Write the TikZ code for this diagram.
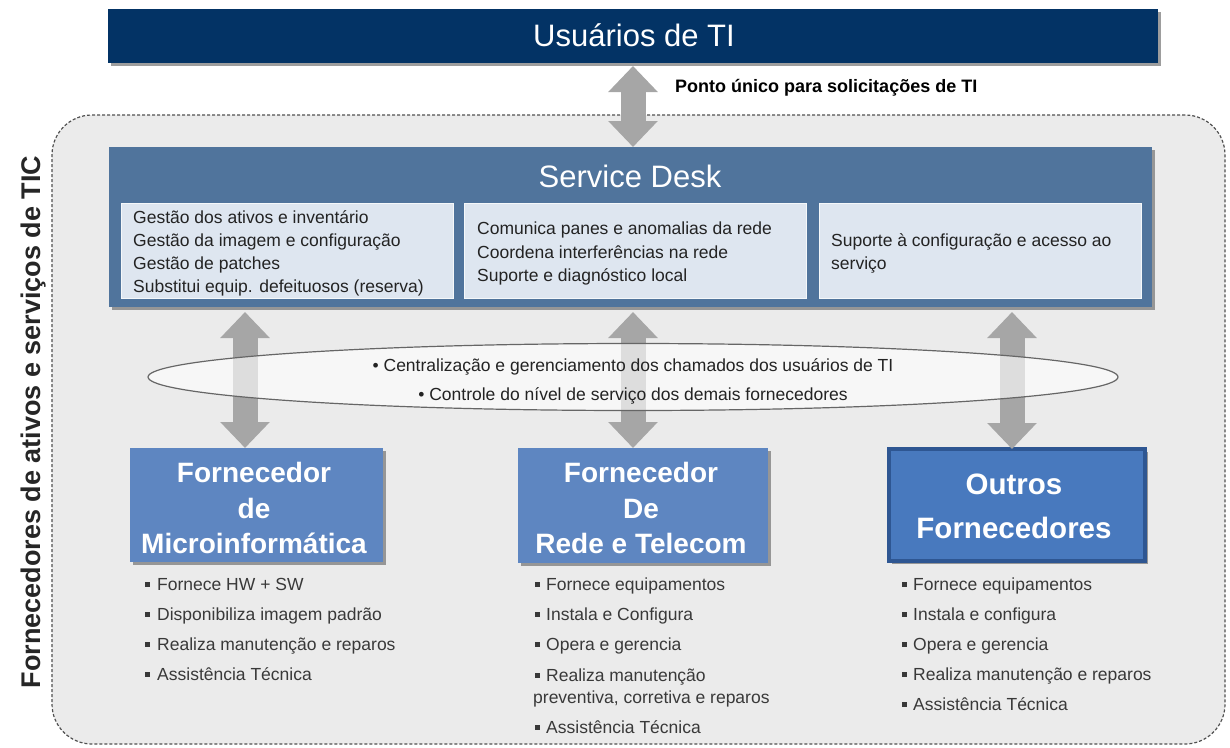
\documentclass[tikz,border=0pt]{standalone}
\usepackage{fontspec}
\setmainfont{Liberation Sans}
\usetikzlibrary{arrows.meta,shapes.geometric,shadows,calc}
\definecolor{navy}{RGB}{3,51,101}
\definecolor{sdblue}{RGB}{80,116,156}
\definecolor{sdlight}{RGB}{222,230,240}
\definecolor{provblue}{RGB}{94,134,193}
\definecolor{provC}{RGB}{72,121,190}
\definecolor{provCborder}{RGB}{46,86,146}
\definecolor{bggray}{RGB}{235,235,235}
\definecolor{arrowgray}{RGB}{166,166,166}
\definecolor{txtdark}{RGB}{35,35,35}
\definecolor{dashgray}{RGB}{80,80,80}
\newcommand{\bul}{\rule[3.5pt]{5pt}{5pt}}
\newcommand{\fs}[1]{\fontsize{#1}{#1}\selectfont}
\begin{document}
\begin{tikzpicture}[x=1pt,y=-1pt,
  shadowed/.style={drop shadow={shadow xshift=3pt,shadow yshift=-3pt,fill=black!55,opacity=0.7}},
  box/.style={rectangle,inner sep=0pt,outer sep=0pt},
  dblarrow/.style={draw=arrowgray,line width=25pt,
    {Triangle[width=48pt,length=26pt]}-{Triangle[width=48pt,length=26pt]}},
  smalltxt/.style={font=\fs{17.5},text=txtdark,anchor=base west,inner sep=0pt},
  listtxt/.style={font=\fs{17.5},text=txtdark!90,anchor=base west,inner sep=0pt},
  provtitle/.style={font=\fs{28}\bfseries,text=white,anchor=base,inner sep=0pt},
  ctxt/.style={font=\fs{17.5},text=txtdark,anchor=base,inner sep=0pt}]
\useasboundingbox (0,0) rectangle (1230,747);

% dashed background region
\node[box,draw=dashgray,fill=bggray,rounded corners=40pt,line width=1.2pt,
  dash pattern=on 3pt off 2pt,minimum width=1173pt,minimum height=629pt]
  (region) at (638.5,429.5) {};
\node[font=\fs{27}\bfseries,text=black!85,rotate=90,anchor=base,inner sep=0pt]
  (regionlbl) at (40,422) {Fornecedores de ativos e serviços de TIC};

% users bar
\node[box,shadowed,fill=navy,minimum width=1050pt,minimum height=54pt] (usr) at (633,36) {};
\node[font=\fs{31},text=white,anchor=base,inner sep=0pt] (usrt) at (634,46) {Usuários de TI};

% service desk
\node[box,shadowed,fill=sdblue,minimum width=1043pt,minimum height=160pt] (sd) at (630.5,227) {};

% providers
\node[box,shadowed,fill=provblue,minimum width=253pt,minimum height=114pt] (pA) at (256.5,505) {};
\node[box,shadowed,fill=provblue,minimum width=250pt,minimum height=115pt] (pB) at (643,505.5) {};
\node[box,shadowed,fill=provC,draw=provCborder,line width=4pt,minimum width=256pt,minimum height=112pt] (pC) at (1017,505) {};

% arrows
\coordinate (xA) at (245,0);
\coordinate (xB) at (633,0);
\coordinate (xC) at (1012,0);
\draw[dblarrow] ($(usr.south -| xB)+(0,3)$) -- (sd.north -| xB);
\draw[dblarrow] ($(sd.south -| xA)+(0,5)$) -- (pA.north -| xA);
\draw[dblarrow] ($(sd.south -| xB)+(0,5)$) -- (pB.north -| xB);
\draw[dblarrow] ($(sd.south -| xC)+(0,5)$) -- (pC.north -| xC);
\node[font=\fs{18}\bfseries,text=black,anchor=base west,inner sep=0pt] (ponto) at (675,92)
  {Ponto único para solicitações de TI};

% ellipse
\node[ellipse,draw=black!60,line width=1.2pt,fill=white,fill opacity=0.62,
  minimum width=970pt,minimum height=67pt,inner sep=0pt] (ell) at (633,377) {};
\node[ctxt] (e1) at (633,371) {• Centralização e gerenciamento dos chamados dos usuários de TI};
\node[ctxt] (e2) at (633,400) {• Controle do nível de serviço dos demais fornecedores};

% service desk contents
\node[font=\fs{31},text=white,anchor=base,inner sep=0pt] (sdt) at (630,187) {Service Desk};
\node[box,fill=sdlight,draw=white!70!sdlight,line width=0.8pt,minimum width=332pt,minimum height=95pt] (b1) at (287,250.5) {};
\node[box,fill=sdlight,draw=white!70!sdlight,line width=0.8pt,minimum width=342pt,minimum height=95pt] (b2) at (635,250.5) {};
\node[box,fill=sdlight,draw=white!70!sdlight,line width=0.8pt,minimum width=322pt,minimum height=95pt] (b3) at (980,250.5) {};

\node[smalltxt] (b1l1) at (133,223) {Gestão dos ativos e inventário};
\node[smalltxt] (b1l2) at (133,246) {Gestão da imagem e configuração};
\node[smalltxt] (b1l3) at (133,269) {Gestão de patches};
\node[smalltxt] (b1l4) at (133,292) {Substitui equip. defeituosos (reserva)};

\node[smalltxt] (b2l1) at (477,234) {Comunica panes e anomalias da rede};
\node[smalltxt] (b2l2) at (477,258) {Coordena interferências na rede};
\node[smalltxt] (b2l3) at (477,281) {Suporte e diagnóstico local};

\node[smalltxt] (b3l1) at (831,246) {Suporte à configuração e acesso ao};
\node[smalltxt] (b3l2) at (831,269) {serviço};

% provider titles
\node[provtitle] (pAt1) at (254,482) {Fornecedor};
\node[provtitle] (pAt2) at (254,518) {de};
\node[provtitle] (pAt3) at (254,553) {Microinformática};

\node[provtitle] (pBt1) at (641,482) {Fornecedor};
\node[provtitle] (pBt2) at (641,518) {De};
\node[provtitle] (pBt3) at (641,553) {Rede e Telecom};

\node[provtitle,font=\fs{29.5}\bfseries] (pCt1) at (1014,494) {Outros};
\node[provtitle,font=\fs{29.5}\bfseries] (pCt2) at (1014,538) {Fornecedores};

% provider lists
\node[listtxt] (lA1) at (145,590) {\makebox[12pt][l]{\bul}Fornece HW + SW};
\node[listtxt] (lA2) at (145,620) {\makebox[12pt][l]{\bul}Disponibiliza imagem padrão};
\node[listtxt] (lA3) at (145,650) {\makebox[12pt][l]{\bul}Realiza manutenção e reparos};
\node[listtxt] (lA4) at (145,680) {\makebox[12pt][l]{\bul}Assistência Técnica};

\node[listtxt] (lB1) at (535,590) {\makebox[11pt][l]{\bul}Fornece equipamentos};
\node[listtxt] (lB2) at (535,620) {\makebox[11pt][l]{\bul}Instala e Configura};
\node[listtxt] (lB3) at (535,650) {\makebox[11pt][l]{\bul}Opera e gerencia};
\node[listtxt] (lB4) at (535,681) {\makebox[11pt][l]{\bul}Realiza manutenção};
\node[listtxt] (lB5) at (533,703) {preventiva, corretiva e reparos};
\node[listtxt] (lB6) at (535,733) {\makebox[11pt][l]{\bul}Assistência Técnica};

\node[listtxt] (lC1) at (902,590) {\makebox[11pt][l]{\bul}Fornece equipamentos};
\node[listtxt] (lC2) at (902,620) {\makebox[11pt][l]{\bul}Instala e configura};
\node[listtxt] (lC3) at (902,650) {\makebox[11pt][l]{\bul}Opera e gerencia};
\node[listtxt] (lC4) at (902,680) {\makebox[11pt][l]{\bul}Realiza manutenção e reparos};
\node[listtxt] (lC5) at (902,710) {\makebox[11pt][l]{\bul}Assistência Técnica};
\end{tikzpicture}
\end{document}
